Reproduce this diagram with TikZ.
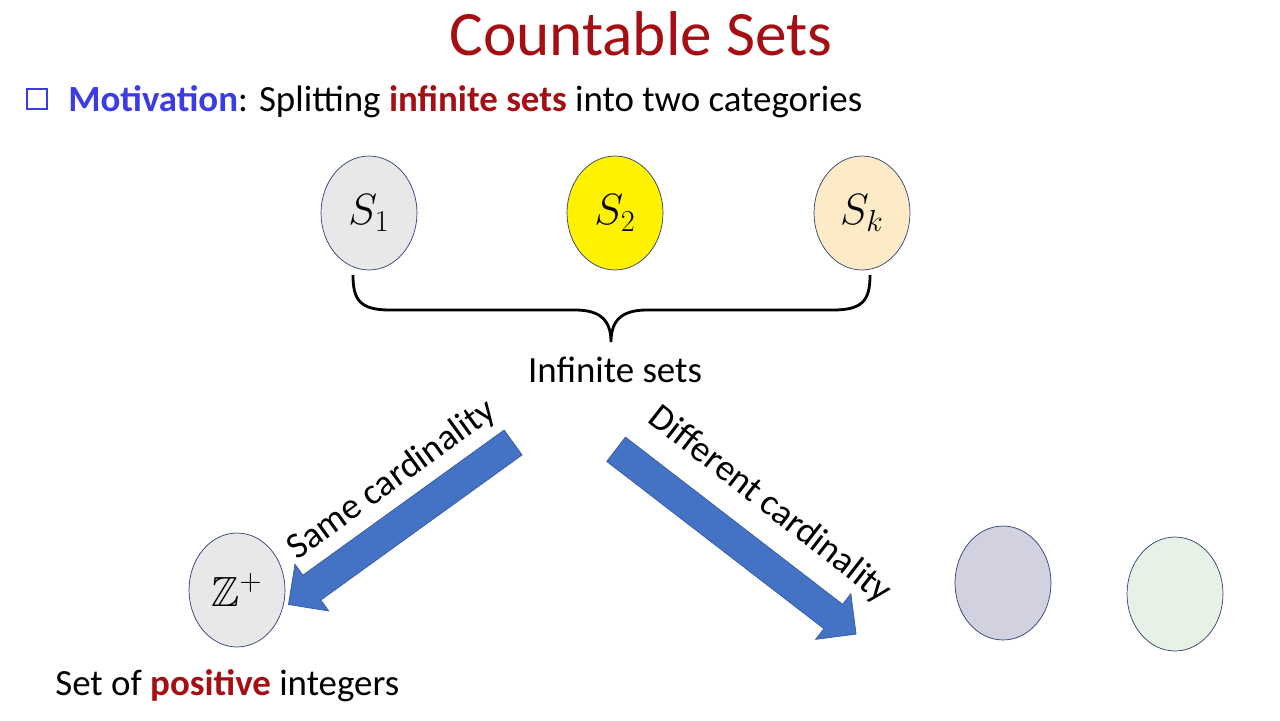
\documentclass[tikz,border=0pt]{standalone}
\usepackage{amssymb}
\usepackage{fontspec}
\setmainfont{Carlito}
\usetikzlibrary{shapes.arrows,shapes.geometric}
\definecolor{titlered}{HTML}{A50F14}
\definecolor{motblue}{HTML}{3C3CE6}
\definecolor{arrowblue}{HTML}{4472C4}
\definecolor{setedge}{HTML}{2F3F6F}
\definecolor{cream}{HTML}{FCEBC6}
\tikzset{
  setblob/.style={ellipse, draw=setedge, thin, minimum width=1.92cm, minimum height=2.28cm, inner sep=0pt, font=\fontsize{24}{26}\selectfont},
  bigarrow/.style={single arrow, fill=arrowblue, draw=arrowblue!80!black, thin, inner xsep=0pt, inner ysep=0.3cm, single arrow head extend=0.27cm, single arrow head indent=0pt},
  bodytext/.style={font=\fontsize{21}{24}\selectfont, inner sep=0pt}
}
\begin{document}
\begin{tikzpicture}[x=0.02cm,y=-0.02cm]
\useasboundingbox (0,0) rectangle (1280,720);
% title and bullet line
\node [font=\fontsize{36}{38}\selectfont, text=titlered] (title) at (641,34) {Countable Sets};
\node [draw=motblue, very thick, minimum size=0.4cm, inner sep=0pt] (bullet) at (37,99) {};
\node [bodytext, anchor=west] (motiv) at (68,102) {\textbf{\color{motblue}Motivation}: Splitting \textbf{\color{titlered}infinite sets} into two categories};
% the sets
\node [setblob, fill=gray!18] (s1) at (369,213) {$S_1$};
\node [setblob, fill=yellow] (s2) at (615,213) {$S_2$};
\node [setblob, fill=cream] (sk) at (862,213) {$S_k$};
% brace
\coordinate (bl) at (353,275);
\coordinate (br) at (870,275);
\coordinate (tip) at (611,342);
\draw [line width=1.6pt] (bl) .. controls (353,300) and (360,310) .. (390,310) -- (575,310) .. controls (600,310) and (611,320) .. (tip)
  .. controls (611,320) and (622,310) .. (647,310) -- (833,310) .. controls (863,310) and (870,300) .. (br);
\node [bodytext] (inf) at (615,370) {Infinite sets};
% arrows
\node [bigarrow, minimum height=5.54cm, minimum width=1.14cm, rotate=215.8] (left) at (407,519) {};
\node [bigarrow, minimum height=6.06cm, minimum width=1.14cm, rotate=-37.6] (right) at (730,537) {};
\node [bodytext, rotate=36] (same) at (392,480) {Same cardinality};
\node [bodytext, rotate=-38] (diff) at (770,505) {Different cardinality};
% lower sets
\node [setblob, fill=gray!18] (zp) at (237,590) {$\mathbb{Z}^+$};
\node [setblob, fill=blue!20!gray!30] (u1) at (1003,583) {};
\node [setblob, fill=green!30!gray!15] (u2) at (1175,594) {};
\node [bodytext, anchor=west] (pos) at (55,686) {Set of \textbf{\color{titlered}positive} integers};
\end{tikzpicture}
\end{document}
